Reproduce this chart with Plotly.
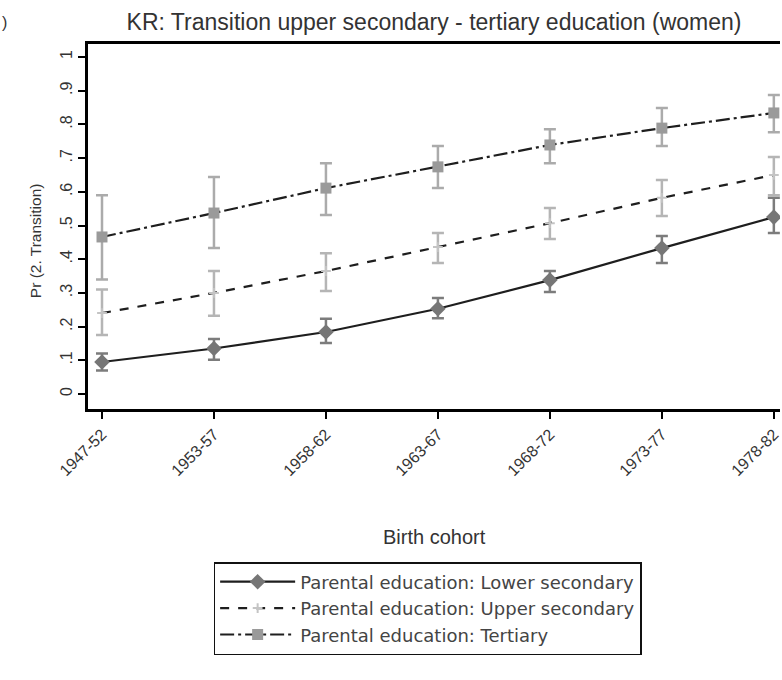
import plotly.graph_objects as go

cohorts = ["1947-52", "1953-57", "1958-62", "1963-67", "1968-72", "1973-77", "1978-82"]

lower_est = [0.095, 0.135, 0.184, 0.253, 0.338, 0.433, 0.525]
lower_hi = [0.120, 0.163, 0.223, 0.285, 0.365, 0.469, 0.582]
lower_lo = [0.070, 0.102, 0.151, 0.225, 0.303, 0.389, 0.478]

upper_est = [0.240, 0.300, 0.365, 0.436, 0.507, 0.582, 0.650]
upper_hi = [0.310, 0.365, 0.418, 0.478, 0.552, 0.635, 0.703]
upper_lo = [0.175, 0.232, 0.306, 0.389, 0.460, 0.528, 0.590]

tert_est = [0.466, 0.537, 0.611, 0.674, 0.739, 0.789, 0.834]
tert_hi = [0.590, 0.644, 0.685, 0.736, 0.786, 0.849, 0.887]
tert_lo = [0.340, 0.433, 0.531, 0.611, 0.685, 0.736, 0.777]

ytick_vals = [0, 0.1, 0.2, 0.3, 0.4, 0.5, 0.6, 0.7, 0.8, 0.9, 1.0]
ytick_text = ["0", ".1", ".2", ".3", ".4", ".5", ".6", ".7", ".8", ".9", "1"]

names = ["Parental education: Lower secondary",
         "Parental education: Upper secondary",
         "Parental education: Tertiary"]

FONT = "Liberation Sans, Arial, sans-serif"
LFONT = "DejaVu Sans, sans-serif"
x_idx = list(range(len(cohorts)))


def err(est, hi, lo):
    return dict(type="data", symmetric=False,
                array=[h - e for h, e in zip(hi, est)],
                arrayminus=[e - l for e, l in zip(est, lo)])


fig = go.Figure()

series = [
    (lower_est, lower_hi, lower_lo, "solid", "diamond", 12, "#767676", "#7c7c7c"),
    (upper_est, upper_hi, upper_lo, "dash", "cross-thin", 7, "#c4c4c4", "#b5b5b5"),
    (tert_est, tert_hi, tert_lo, "14px,4px,3px,4px", "square", 11, "#9a9a9a", "#ababab"),
]
for (est, hi, lo, dash, sym, size, mcol, ecol), nm in zip(series, names):
    ed = err(est, hi, lo)
    ed.update(color=ecol, thickness=2.5, width=6)
    fig.add_trace(go.Scatter(
        x=x_idx, y=est, name=nm, mode="lines+markers",
        line=dict(color="#1e1e1e", width=2.2, dash=dash),
        marker=dict(symbol=sym, size=size, color=mcol,
                    line=dict(color=mcol, width=2 if sym == "cross-thin" else 0)),
        error_y=ed,
    ))

fig.update_layout(
    width=782, height=680,
    margin=dict(l=88, r=0, t=44, b=271),
    paper_bgcolor="white", plot_bgcolor="white",
    font=dict(family=FONT, color="#333333"),
    showlegend=True,
    title=dict(text="KR: Transition upper secondary - tertiary education (women)",
               x=0.5, xref="paper", xanchor="center",
               y=1 - 22 / 680, yref="container", yanchor="middle",
               font=dict(size=23, color="#333333", family=FONT)),
    legend=dict(x=(214 - 88) / 694, y=(409 - 562) / 365,
                xanchor="left", yanchor="top",
                bordercolor="#111111", borderwidth=1.5,
                bgcolor="white", itemwidth=75,
                font=dict(size=18, color="#444444", family=LFONT),
                tracegroupgap=0),
    xaxis=dict(range=[-0.125, 6.055], tickvals=x_idx, ticktext=cohorts,
               tickangle=-45, ticks="outside", ticklen=7, tickwidth=2,
               tickcolor="black", showline=True, linecolor="black", linewidth=2.5,
               mirror=True, showgrid=False, zeroline=False,
               ticklabeloverflow="allow",
               tickfont=dict(size=16, color="#333333", family=FONT)),
    yaxis=dict(range=[-0.0445, 1.0386], tickvals=ytick_vals, ticktext=ytick_text,
               tickangle=-90, ticks="outside", ticklen=7, tickwidth=2,
               tickcolor="black", showline=True, linecolor="black", linewidth=2.5,
               showgrid=False, zeroline=False,
               tickfont=dict(size=16, color="#333333", family=FONT)),
)

fig.add_annotation(text="Pr (2. Transition)", xref="paper", yref="paper",
                   x=-(88 - 35) / 694, y=(409 - 241) / 365,
                   xanchor="center", yanchor="middle", textangle=-90,
                   showarrow=False, font=dict(size=15.5, color="#333333", family=FONT))
fig.add_annotation(text="Birth cohort", xref="paper", yref="paper",
                   x=0.5, y=-(537 - 409) / 365, xanchor="center", yanchor="middle",
                   showarrow=False, font=dict(size=20, color="#333333", family=FONT))
fig.add_annotation(text=")", xref="paper", yref="paper",
                   x=-88 / 694, y=1 + (44 - 22) / 365, xanchor="left", yanchor="middle",
                   showarrow=False, font=dict(size=16, color="#333333", family=FONT))

fig.write_html("out.html")
